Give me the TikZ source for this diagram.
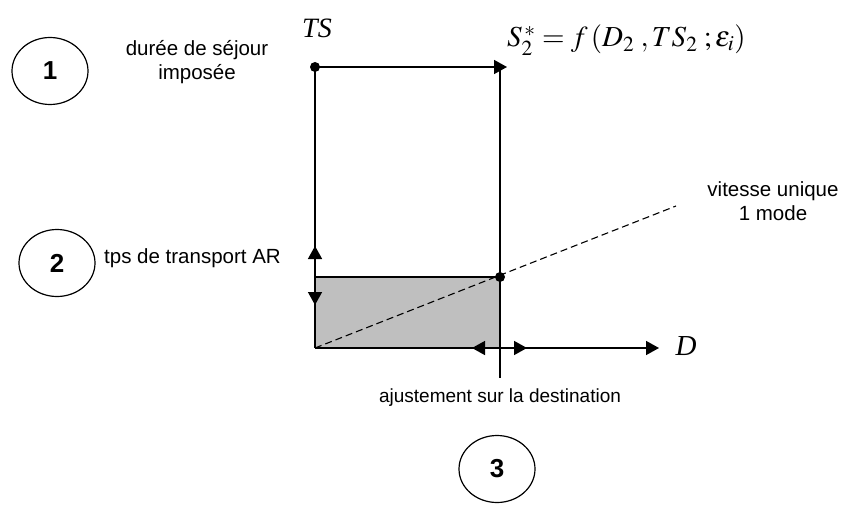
\documentclass[tikz,border=0pt]{standalone}
\usepackage{mathptmx}
\usepackage{fontspec}
\setmainfont{Liberation Sans}
\newfontfamily\serifit{Liberation Serif}
\usetikzlibrary{arrows.meta,shapes.geometric}
\begin{document}
\begin{tikzpicture}[x=1pt,y=-1pt,
  ln/.style={line width=1.5pt},
  tip/.style={-{Triangle[length=13pt,width=14pt]}},
  lbl/.style={font=\fontsize{20.5}{24.5}\selectfont,align=center,inner sep=0pt},
  num/.style={draw,line width=1.2pt,ellipse,minimum width=76pt,minimum height=67pt,inner sep=0pt,font=\fontsize{26}{30}\selectfont\bfseries},
  dot/.style={circle,fill=black,inner sep=0pt,minimum size=10pt}]
\useasboundingbox (0,0) rectangle (842,505);
% coordinates
\coordinate (O) at (315,348);
\coordinate (TL) at (315,67);
\coordinate (TR) at (500,67);
\coordinate (TRtip) at (507,67);
\coordinate (P) at (500,277);
\coordinate (Pl) at (315,277);
\coordinate (VB) at (500,378);
\coordinate (Ax) at (500,348);
\coordinate (Dend) at (659,348);
\coordinate (dashend) at (676,206);
\coordinate (up) at (315,246);
\coordinate (down) at (315,305);
\coordinate (left) at (472,348);
\coordinate (right) at (527,348);
% gray box
\fill[gray!50] (Pl) rectangle (Ax);
\draw[ln] (Pl) -- (P);
\draw[ln] (O) -- (TL);
\draw[ln] (TR) -- (VB);
\draw[ln,tip] (TL) -- (TRtip);
\draw[ln,tip] (O) -- (Dend);
\draw[ln,tip] (Pl) -- (up);
\draw[ln,tip] (Pl) -- (down);
\draw[ln,tip] (Ax) -- (left);
\draw[ln,tip] (Ax) -- (right);
\draw[line width=1.1pt,dash pattern=on 7pt off 4pt] (O) -- (dashend);
\node[dot] (d1) at (TL) {};
\node[dot] (d2) at (P) {};
% labels
\node[inner sep=0pt,font=\fontsize{28}{32}\selectfont\serifit\itshape] (TS) at (317,28) {TS};
\node[inner sep=0pt,font=\fontsize{29}{32}\selectfont\serifit\itshape] (D) at (686,346) {D};
\node[inner sep=0pt,font=\fontsize{29}{32}\selectfont,anchor=west] (f) at (507,40) {$S_2^{\,*} = f\,(D_2\;,TS_2\;;\varepsilon_i)$};
\node[lbl] (t1) at (197,62) {durée de séjour\\imposée};
\node[lbl,anchor=west] (t2) at (104,258) {tps de transport AR};
\node[lbl] (t3) at (773,201) {vitesse unique\\1 mode};
\node[lbl,font=\fontsize{19}{23}\selectfont] (t4) at (500,398) {ajustement sur la destination};
\node[num] (c1) at (50,71) {1};
\node[num] (c2) at (57,263) {2};
\node[num] (c3) at (497,469) {3};
\end{tikzpicture}
\end{document}
